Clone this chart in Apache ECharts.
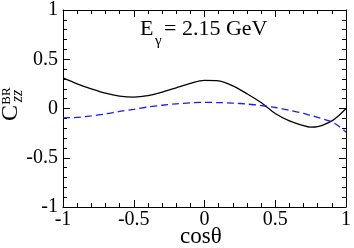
<!DOCTYPE html>
<html><head><meta charset="utf-8">
<script src="https://cdn.jsdelivr.net/npm/echarts@6/dist/echarts.min.js"></script>
<style>html,body{margin:0;padding:0;background:#fff}#c{width:354px;height:248px}</style>
</head><body><div id="c"></div>
<script>
var xs = [-1,-0.9,-0.8,-0.7,-0.6,-0.5,-0.4,-0.3,-0.2,-0.1,0,0.1,0.2,0.3,0.4,0.5,0.6,0.7,0.75,0.8,0.9,0.95,1];
var blackVals = [0.31,0.25,0.2,0.155,0.125,0.115,0.13,0.165,0.21,0.255,0.285,0.28,0.23,0.15,0.06,-0.05,-0.125,-0.175,-0.19,-0.185,-0.125,-0.07,0.0];
var blueVals = [-0.095,-0.09,-0.075,-0.055,-0.03,-0.008,0.015,0.033,0.047,0.057,0.062,0.06,0.055,0.045,0.03,0.01,-0.018,-0.05,-0.07,-0.09,-0.135,-0.18,-0.24];
var xTicks = [-1,-0.5,0,0.5,1];
var yTicks = [-1,-0.5,0,0.5,1];

function pairs(v){return xs.map(function(x,i){return [x,v[i]];});}
var serif = '"Liberation Serif","DejaVu Serif",serif';
function fmt(v){return String(v);}
var axisCommon = {
  type:'value', min:-1, max:1, interval:0.5,
  axisLine:{show:true,onZero:false,lineStyle:{color:'#000',width:1}},
  axisTick:{show:true,inside:true,length:7,lineStyle:{color:'#000',width:1}},
  minorTick:{show:true,splitNumber:5,length:4,lineStyle:{color:'#000',width:1}},
  splitLine:{show:false}, minorSplitLine:{show:false}
};
function ax(extra){return Object.assign({},JSON.parse(JSON.stringify(axisCommon)),extra);}
var chart = echarts.init(document.getElementById('c'),null,{renderer:'canvas'});
chart.setOption({
  animation:false,
  backgroundColor:'#fff',
  grid:{left:63,right:5,top:7,bottom:41},
  xAxis:[
    ax({position:'bottom',axisLabel:{show:true,margin:3,color:'#000',fontFamily:serif,fontSize:20,formatter:fmt,showMinLabel:true,showMaxLabel:true}}),
    ax({position:'top',axisLabel:{show:false}})
  ],
  yAxis:[
    ax({position:'left',axisLabel:{show:true,margin:5,color:'#000',fontFamily:serif,fontSize:20,formatter:fmt,showMinLabel:true,showMaxLabel:true}}),
    ax({position:'right',axisLabel:{show:false}})
  ],
  series:[
    {type:'line',data:pairs(blackVals),xAxisIndex:0,yAxisIndex:0,smooth:0.3,showSymbol:false,lineStyle:{color:'#000',width:1.3}},
    {type:'line',data:pairs(blueVals),xAxisIndex:0,yAxisIndex:0,smooth:0.3,showSymbol:false,lineStyle:{color:'#1a1aff',width:1.3,type:[7,4]}}
  ],
  graphic:[
    {type:'text',left:140,top:18,style:{text:'E',font:'22px '+serif,fill:'#000'}},
    {type:'text',left:155,top:34,style:{text:'γ',font:'15px '+serif,fill:'#000'}},
    {type:'text',left:164,top:18,style:{text:'= 2.15 GeV',font:'22px '+serif,fill:'#000'}},
    {type:'text',left:180,top:225,style:{text:'cosθ',font:'23px '+serif,fill:'#000'}},
    {type:'group',x:18,y:106,rotation:Math.PI/2,children:[
      {type:'text',x:-7,y:-7,style:{text:'C',font:'24px '+serif,fill:'#000',align:'center',verticalAlign:'middle'}},
      {type:'text',x:10,y:-11,style:{text:'BR',font:'13px '+serif,fill:'#000',align:'center',verticalAlign:'middle'}},
      {type:'text',x:10,y:0,style:{text:'zz',font:'italic 16px '+serif,fill:'#000',align:'center',verticalAlign:'middle'}}
    ]}
  ]
});
</script></body></html>
